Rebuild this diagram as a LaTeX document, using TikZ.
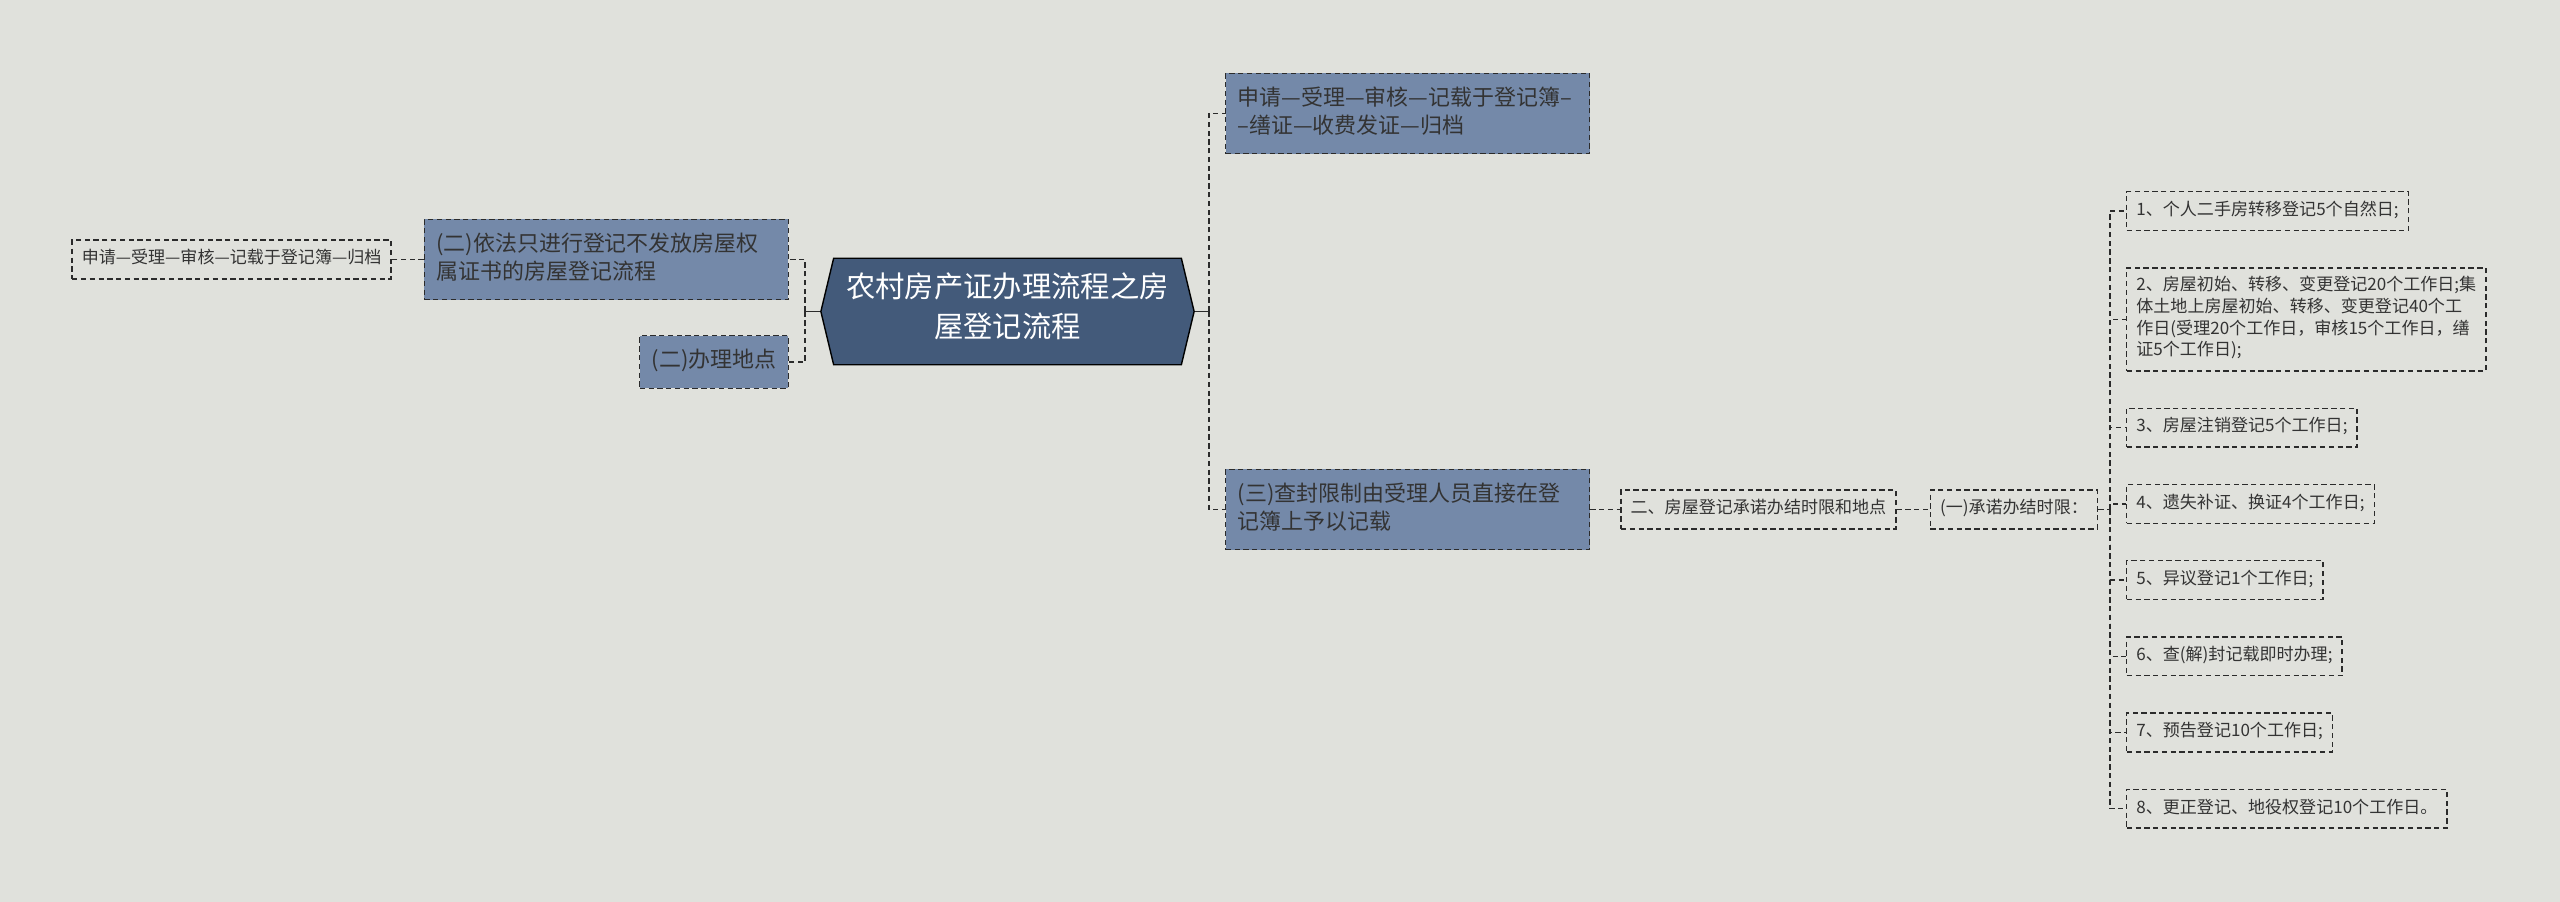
\documentclass[tikz,border=0pt]{standalone}
\usepackage{fontspec}
\setmainfont{Noto Sans CJK SC}
\usepackage{xcolor}
\usetikzlibrary{positioning, shapes.symbols}

\definecolor{fond}{HTML}{E0E1DC}
\definecolor{bleuRacine}{HTML}{435A7A}
\definecolor{bleuBranche}{HTML}{7489A9}
\definecolor{trait}{HTML}{2B2B2B}
\definecolor{texte}{HTML}{333333}

\begin{document}
\begin{tikzpicture}[
				x=0.02cm, y=-0.02cm,
				node distance=0.6cm,
				% Styles des noeuds
				racine/.style={signal, signal to=east and west, signal pointer angle=153, draw=black, fill=bleuRacine, line width=0.8pt, text=white, font=\fontsize{16.7}{22.7}\selectfont, align=center, inner xsep=7.1pt, inner ysep=8.5pt, execute at begin node=\strut, execute at end node=\strut},
				branche/.style={draw=trait, fill=bleuBranche, line width=0.8pt, dash pattern=on 3pt off 2pt, text=texte, font=\fontsize{12.5}{15.9}\selectfont, align=left, inner xsep=6.8pt, inner ysep=7pt, execute at begin node=\strut, execute at end node=\strut},
				large/.style={text width=193.5pt},
				feuille/.style={draw=trait, line width=0.8pt, dash pattern=on 3pt off 2pt, text=texte, font=\fontsize{9.7}{12.3}\selectfont, align=left, inner xsep=5.5pt, inner ysep=4.9pt, execute at begin node=\strut, execute at end node=\strut},
				lien/.style={draw=trait, line width=0.8pt, dash pattern=on 3pt off 2pt},
				tige/.style={draw=trait, line width=0.8pt},
				]
				
				\useasboundingbox (0,0) rectangle (2560,902);
				\fill[fond] (0,0) rectangle (2560,902);
				
				% Racine
				\node[racine] (root) at (1007.5, 311.5) {农村房产证办理流程之房\\屋登记流程};
				
				% Partie gauche
				\node[branche, large, anchor=east] (deux) at (789, 259.5) {(二)依法只进行登记不发放房屋权\\属证书的房屋登记流程};
				\node[branche, anchor=east] (lieu) at (789, 362) {(二)办理地点};
				\node[feuille, left=0.64cm of deux] (gauche) {申请—受理—审核—记载于登记簿—归档};
				
				\coordinate (busG) at (805, 311.5);
				\draw[tige] (root.west) -- (busG);
				\draw[lien] (busG) |- (deux.east);
				\draw[lien] (busG) |- (lieu.east);
				\draw[lien] (deux.west) -- (gauche.east);
				
				% Partie droite
				\node[branche, large, anchor=west] (haut) at (1225, 113.5) {申请—受理—审核—记载于登记簿–\\–缮证—收费发证—归档};
				\node[branche, large, anchor=west] (trois) at (1225, 509.5) {(三)查封限制由受理人员直接在登\\记簿上予以记载};
				\node[feuille, right=0.6cm of trois] (delai) {二、房屋登记承诺办结时限和地点};
				\node[feuille, right=0.66cm of delai] (yi) {(一)承诺办结时限：};
				
				\coordinate (busD) at (1209, 311.5);
				\draw[tige] (root.east) -- (busD);
				\draw[lien] (busD) |- (haut.west);
				\draw[lien] (busD) |- (trois.west);
				\draw[lien] (trois.east) -- (delai.west);
				\draw[lien] (delai.east) -- (yi.west);
				
				% Délais
				\node[feuille, anchor=west] (L1) at (2126, 211) {1、个人二手房转移登记5个自然日;};
				\node[feuille, below=0.72cm of L1.south west, anchor=north west] (L2) {2、房屋初始、转移、变更登记20个工作日;集\\体土地上房屋初始、转移、变更登记40个工\\作日(受理20个工作日，审核15个工作日，缮\\证5个工作日);};
				\node[feuille, below=0.72cm of L2.south west, anchor=north west] (L3) {3、房屋注销登记5个工作日;};
				\node[feuille, below=0.72cm of L3.south west, anchor=north west] (L4) {4、遗失补证、换证4个工作日;};
				\node[feuille, below=0.72cm of L4.south west, anchor=north west] (L5) {5、异议登记1个工作日;};
				\node[feuille, below=0.72cm of L5.south west, anchor=north west] (L6) {6、查(解)封记载即时办理;};
				\node[feuille, below=0.72cm of L6.south west, anchor=north west] (L7) {7、预告登记10个工作日;};
				\node[feuille, below=0.72cm of L7.south west, anchor=north west] (L8) {8、更正登记、地役权登记10个工作日。};
				
				\coordinate (busF) at (2110, 0 |- yi.east);
				\draw[lien] (yi.east) -- (busF);
				\draw[lien] (busF) |- (L1.west);
				\draw[lien] (busF) |- (L2.west);
				\draw[lien] (busF) |- (L3.west);
				\draw[lien] (busF) |- (L4.west);
				\draw[lien] (busF) |- (L5.west);
				\draw[lien] (busF) |- (L6.west);
				\draw[lien] (busF) |- (L7.west);
				\draw[lien] (busF) |- (L8.west);
				
			\end{tikzpicture}
\end{document}
